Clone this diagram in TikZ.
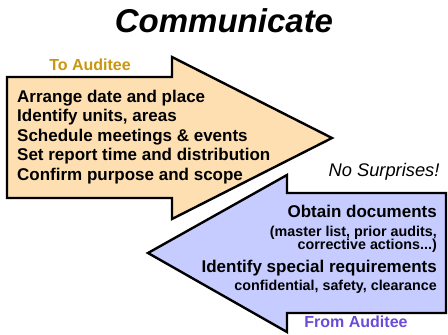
\documentclass[tikz,border=0pt]{standalone}
\usepackage{fontspec}
\setmainfont{Liberation Sans}
\definecolor{peach}{HTML}{FDDFB2}
\definecolor{lilac}{HTML}{C6CCFF}
\definecolor{gold}{HTML}{C9960F}
\definecolor{violet}{HTML}{6A4CD8}
\tikzset{
  arrowbody/.style={draw=black, line width=2.4pt, line join=miter},
  bigtext/.style={font=\fontsize{17}{19.5}\selectfont\bfseries, inner sep=0pt},
  smalltext/.style={font=\fontsize{14.3}{16}\selectfont\bfseries, inner sep=0pt}
}
\begin{document}
\begin{tikzpicture}[x=1pt, y=-1pt]
        \useasboundingbox (0,0) rectangle (448,335);
        % title
        \node[font=\fontsize{33}{36}\selectfont\bfseries\itshape, anchor=base]
          (title) at (224,32) {Communicate};
        % to auditee
        \fill[peach] (7,77) -- (172,77) -- (172,57) -- (332,138)
          -- (172,219) -- (172,198) -- (7,198) -- cycle;
        \draw[arrowbody] (7,77) -- (172,77) -- (172,57) -- (332,138)
          -- (172,219) -- (172,198) -- (7,198) -- cycle;
        \node[font=\fontsize{16}{18}\selectfont\bfseries, text=gold, anchor=base]
          (to) at (90,70) {To Auditee};
        \node[bigtext, align=left, anchor=north west] (tasks) at (17,89.5)
          {Arrange date and place\\ Identify units, areas\\
           Schedule meetings \& events\\ Set report time and distribution\\
           Confirm purpose and scope};
        % from auditee
        \fill[lilac] (446,193) -- (287,193) -- (287,175) -- (148,253)
          -- (287,332) -- (287,313) -- (446,313) -- cycle;
        \draw[arrowbody] (446,193) -- (287,193) -- (287,175) -- (148,253)
          -- (287,332) -- (287,313) -- (446,313) -- cycle;
        \node[bigtext, anchor=base east] (docs) at (437,217) {Obtain documents};
        \node[smalltext, anchor=base east] (docsa) at (437,236) {(master list, prior audits,};
        \node[smalltext, anchor=base east] (docsb) at (437,249) {corrective actions...)};
        \node[bigtext, anchor=base east] (reqs) at (437,272) {Identify special requirements};
        \node[smalltext, anchor=base east] (reqsa) at (437,290) {confidential, safety, clearance};
        \node[font=\fontsize{16}{18}\selectfont\bfseries, text=violet, anchor=base]
          (from) at (356,327) {From Auditee};
        % remark
        \node[font=\fontsize{18.3}{20}\selectfont\itshape, anchor=base east]
          (remark) at (443,176) {No Surprises!};
      \end{tikzpicture}
\end{document}
